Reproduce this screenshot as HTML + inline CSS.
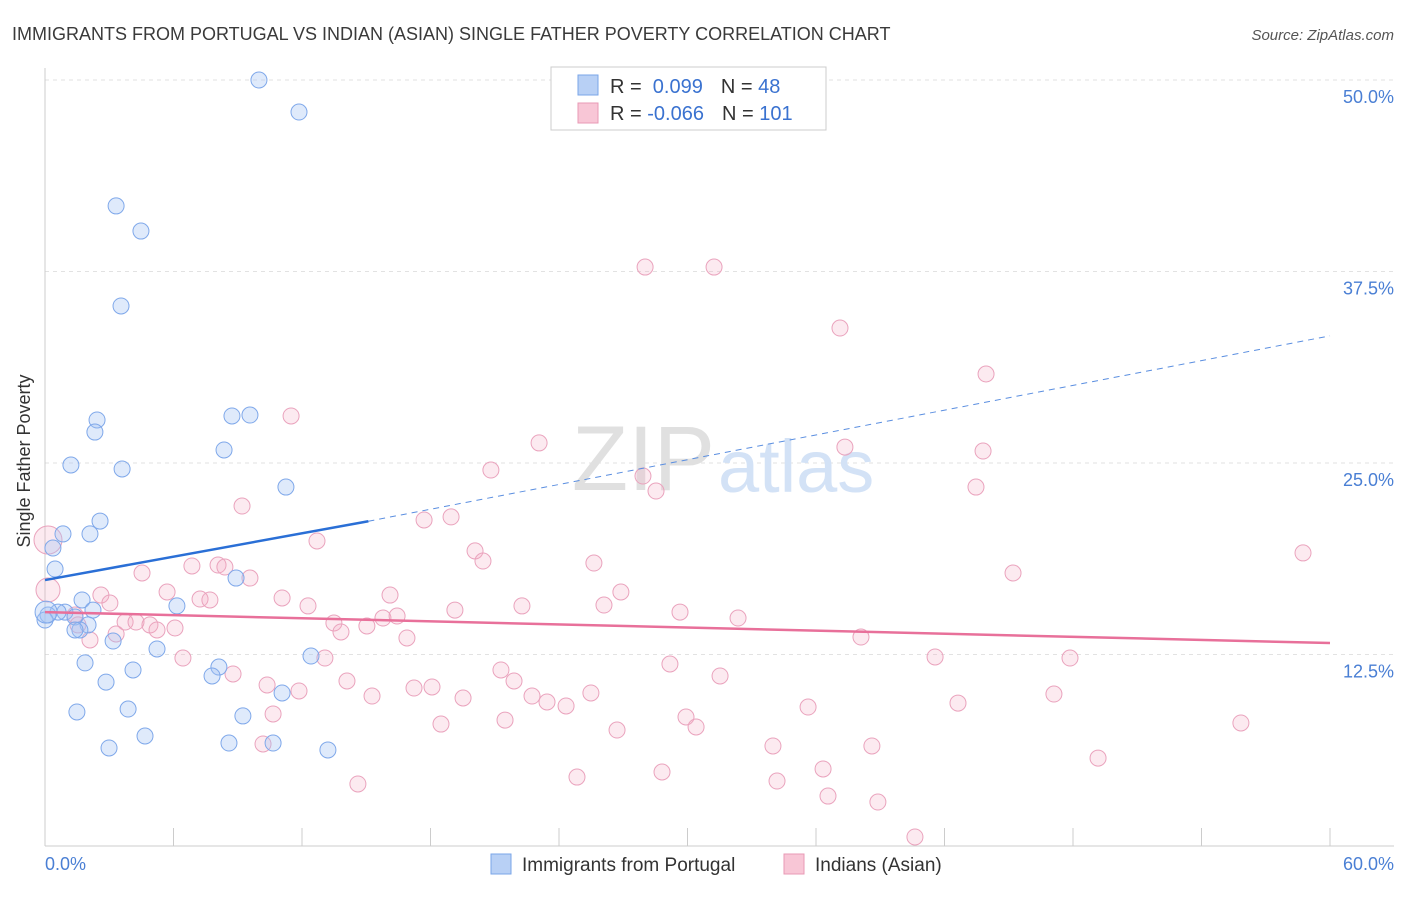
<!DOCTYPE html>
<html><head><meta charset="utf-8"><style>
body{margin:0;background:#fff;font-family:"Liberation Sans",sans-serif;}
svg text{font-family:"Liberation Sans",sans-serif;}
</style></head><body>
<svg width="1406" height="892" xmlns="http://www.w3.org/2000/svg">
<text x="12" y="40" font-size="18" fill="#3a3a3a">IMMIGRANTS FROM PORTUGAL VS INDIAN (ASIAN) SINGLE FATHER POVERTY CORRELATION CHART</text>
<text x="1394" y="40" font-size="15" fill="#555" font-style="italic" text-anchor="end">Source: ZipAtlas.com</text>
<g id="grid"></g>
<text x="715" y="490" font-size="92" fill="#e0e0e0" text-anchor="end" font-family="Liberation Serif">ZIP</text>
<text x="718" y="492" font-size="74" fill="#d3e2f6">atlas</text>
<g id="pts"></g>
<g id="trend"></g>
<text x="24" y="455" font-size="18" fill="#333" transform="rotate(-90 30 455)" text-anchor="middle">Single Father Poverty</text>
<text x="45" y="870" font-size="18" fill="#4a7fd4">0.0%</text>
<text x="1394" y="870" font-size="18" fill="#4a7fd4" text-anchor="end">60.0%</text>
<g>
<rect x="551" y="67" width="275" height="63" fill="#fff" stroke="#ccc"/>
<rect x="578" y="75" width="20" height="20" fill="#b8d0f5" stroke="#7aa6e8"/>
<rect x="578" y="103" width="20" height="20" fill="#f8c6d6" stroke="#e89ab5"/>
<text x="610" y="93" font-size="20" fill="#333">R = <tspan fill="#3a72d0">&#160;0.099</tspan><tspan dx="18" fill="#333">N = </tspan><tspan fill="#3a72d0"> 48</tspan></text>
<text x="610" y="120" font-size="20" fill="#333">R = <tspan fill="#3a72d0">-0.066</tspan><tspan dx="18" fill="#333">N = </tspan><tspan fill="#3a72d0">101</tspan></text>
</g>
<g>
<rect x="491" y="854" width="20" height="20" fill="#b8d0f5" stroke="#7aa6e8"/>
<text x="522" y="871" font-size="19" fill="#333">Immigrants from Portugal</text>
<rect x="784" y="854" width="20" height="20" fill="#f8c6d6" stroke="#e89ab5"/>
<text x="815" y="871" font-size="19" fill="#333">Indians (Asian)</text>
</g>
</svg>
<script>
const yTicks=[12.5,25,37.5,50];
const yTickLabels=["12.5%","25.0%","37.5%","50.0%"];
const xTicks=[0,6,12,18,24,30,36,42,48,54,60];
const bluePx=[[259,80],[299,112],[116,206],[141,231],[121,306],[97,420],[95,432],[71,465],[122,469],[232,416],[250,415],[224,450],[286,487],[100,521],[90,534],[63,534],[53,548],[55,569],[236,578],[177,606],[82,600],[93,610],[65,612],[58,612],[48,615],[45,620],[75,617],[88,625],[80,630],[75,630],[113,641],[157,649],[85,663],[133,670],[219,667],[212,676],[311,656],[106,682],[282,693],[77,712],[128,709],[243,716],[145,736],[229,743],[273,743],[109,748],[328,750],[46,612]];
const pinkPx=[[48,540],[48,590],[645,267],[714,267],[840,328],[986,374],[291,416],[539,443],[845,447],[983,451],[491,470],[643,476],[656,491],[976,487],[242,506],[424,520],[451,517],[317,541],[475,551],[483,561],[594,563],[1303,553],[142,573],[192,566],[218,565],[225,567],[250,578],[1013,573],[167,592],[101,595],[110,603],[200,599],[210,600],[390,595],[282,598],[308,606],[455,610],[522,606],[604,605],[621,592],[680,612],[738,618],[75,615],[78,625],[125,622],[136,622],[150,625],[157,630],[175,628],[334,623],[341,632],[367,626],[383,618],[397,616],[407,638],[90,640],[116,634],[183,658],[325,658],[861,637],[935,657],[1070,658],[670,664],[501,670],[514,681],[720,676],[233,674],[347,681],[267,685],[299,691],[414,688],[432,687],[372,696],[463,698],[532,696],[547,702],[566,706],[591,693],[1054,694],[958,703],[808,707],[273,714],[441,724],[505,720],[686,717],[696,727],[617,730],[1241,723],[263,744],[773,746],[872,746],[1098,758],[823,769],[577,777],[662,772],[777,781],[358,784],[828,796],[878,802],[915,837]];
const blueX=bluePx.map(p=>+((p[0]-45)/21.417).toFixed(2));
const blueY=bluePx.map(p=>+((846-p[1])/15.32).toFixed(2));
const pinkX=pinkPx.map(p=>+((p[0]-45)/21.417).toFixed(2));
const pinkY=pinkPx.map(p=>+((846-p[1])/15.32).toFixed(2));
const blueTrend=[17.36,21.2,33.3];
const blueTrendX=[0,15.1,60];
const pinkTrend=[15.27,13.25];
const NS='http://www.w3.org/2000/svg';
const sx=v=>45+v/60*1285, sy=v=>846-v*15.32;
function mk(t,a,p){const e=document.createElementNS(NS,t);for(const k in a)e.setAttribute(k,a[k]);p.appendChild(e);return e;}
const g=document.getElementById('grid');
yTicks.forEach((t,i)=>{
 const l=mk('line',{x1:45,x2:1394,y1:sy(t),y2:sy(t),stroke:'#e2e2e2','stroke-dasharray':'4,4'},g);
 
 
 const tx=mk('text',{x:1394,y:sy(t)+23,'font-size':18,fill:'#4a7fd4','text-anchor':'end'},g);
 tx.textContent=yTickLabels[i];
 
 
});
const ax=mk('line',{x1:45,x2:1394,y1:846,y2:846,stroke:'#ccc'},g);


const ay=mk('line',{x1:45,x2:45,y1:68,y2:846,stroke:'#ccc'},g);


xTicks.forEach(t=>{
 const l=mk('line',{x1:sx(t),x2:sx(t),y1:828,y2:846,stroke:'#ccc'},g);
 
 
});
const pg=document.getElementById('pts');
pinkX.forEach((x,i)=>{
 const c=mk('circle',{cx:sx(x),cy:sy(pinkY[i]),r:i<2?(i==0?14:12):8,fill:'rgba(244,170,195,0.25)',stroke:'#eaa3bd','stroke-width':1},pg);
 
 
});
blueX.forEach((x,i)=>{
 const c=mk('circle',{cx:sx(x),cy:sy(blueY[i]),r:i==47?11:8,fill:'rgba(164,194,244,0.35)',stroke:'#7fa8ea','stroke-width':1},pg);
 
 
});
const tg=document.getElementById('trend');
const b1=mk('line',{x1:sx(blueTrendX[0]),y1:sy(blueTrend[0]),x2:sx(blueTrendX[1]),y2:sy(blueTrend[1]),stroke:'#2a6fd6','stroke-width':2.5},tg);


const b2=mk('line',{x1:sx(blueTrendX[1]),y1:sy(blueTrend[1]),x2:sx(blueTrendX[2]),y2:sy(blueTrend[2]),stroke:'#5a8ee0','stroke-width':1,'stroke-dasharray':'6,5'},tg);


const p1=mk('line',{x1:sx(0),y1:sy(pinkTrend[0]),x2:sx(60),y2:sy(pinkTrend[1]),stroke:'#e8709a','stroke-width':2.5},tg);


</script>
</body></html>
